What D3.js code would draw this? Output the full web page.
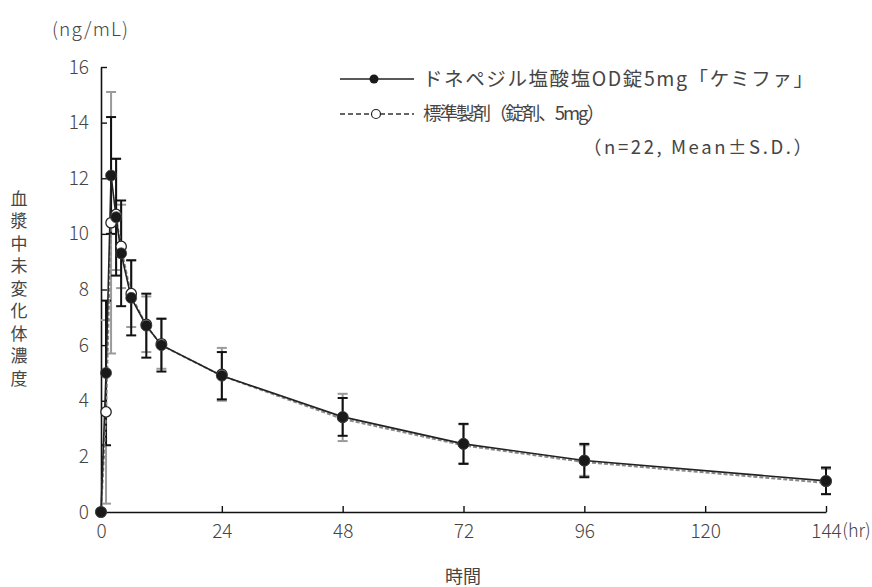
<!DOCTYPE html>
<html><head><meta charset="utf-8">
<script src="https://cdn.jsdelivr.net/npm/d3@7"></script>
<style>
body{margin:0;background:#fff;}
text{font-family:"Noto Sans CJK JP","Noto Sans",sans-serif;}
</style></head>
<body><svg id="c" width="872" height="587"></svg>
<script>
const times = [0, 1, 2, 3, 4, 6, 9, 12, 24, 48, 72, 96, 144];
const testMean = [0, 5.0, 12.1, 10.6, 9.3, 7.7, 6.7, 6.0, 4.9, 3.42, 2.45, 1.85, 1.12];
const testSD   = [0, 2.6, 2.1, 2.1, 1.9, 1.35, 1.15, 0.95, 0.85, 0.68, 0.72, 0.6, 0.48];
const refMean  = [0, 3.6, 10.4, 10.7, 9.55, 7.85, 6.75, 6.05, 4.95, 3.4, 2.45, 1.85, 1.1];
const refSD    = [0, 3.3, 4.7, 2.0, 1.5, 1.2, 1.0, 0.9, 0.95, 0.85, 0.7, 0.55, 0.45];
const xTicks = [0, 24, 48, 72, 96, 120, 144];
const yTicks = [0, 2, 4, 6, 8, 10, 12, 14, 16];
const yTitle = "血漿中未変化体濃度";
const legendLabels = ["ドネペジル塩酸塩OD錠5mg「ケミファ」", "標準製剤（錠剤、5mg）", "（n=22, Mean±S.D.）"];

const svg = d3.select("#c");
const x = d3.scaleLinear().domain([0, 144]).range([101, 826]);
const y = d3.scaleLinear().domain([0, 16]).range([512, 67]);
const txt = "#454545";
const latin = '"Open Sans","Noto Sans",sans-serif';

const test = times.map((t, i) => ({t, m: testMean[i], s: testSD[i]}));
const ref = times.map((t, i) => ({t, m: refMean[i], s: refSD[i]}));

// axes
const xAxis = d3.axisBottom(x).tickValues(xTicks).tickSizeInner(-6).tickSizeOuter(0).tickPadding(12);
const gx = svg.append("g").attr("transform", `translate(0,${y(0)})`).call(xAxis);
const yAxis = d3.axisLeft(y).tickValues(yTicks).tickSizeInner(-6).tickSizeOuter(0).tickPadding(12);
const gy = svg.append("g").attr("transform", `translate(${x(0)},0)`).call(yAxis);
[gx, gy].forEach(g => {
  g.select(".domain").attr("stroke", "#111").attr("stroke-width", 1.6);
  g.selectAll(".tick line").attr("stroke", "#111").attr("stroke-width", 1.4);
  g.selectAll(".tick text").attr("fill", txt).attr("font-size", 19)
    .attr("font-family", latin).attr("font-weight", 300);
});
gx.selectAll(".tick text").attr("dy", "0.72em");
gx.select(".tick:first-of-type line").remove();
gy.select(".tick:first-of-type line").remove();

// "(hr)" placed right after the last x tick label
const lastLabel = gx.selectAll(".tick text").nodes().pop();
const lw = lastLabel.getComputedTextLength();
svg.append("text").attr("x", x(144) + lw / 2 + 1).attr("y", 537).attr("font-size", 18).attr("fill", txt)
  .attr("font-family", latin).attr("font-weight", 300).text("(hr)");
svg.append("text").attr("x", 52).attr("y", 36).attr("font-size", 19).attr("fill", txt)
  .attr("font-family", latin).attr("font-weight", 300)
  .attr("textLength", 76).attr("lengthAdjust", "spacing").text("(ng/mL)");
svg.append("text").attr("x", 463).attr("y", 583).attr("text-anchor", "middle").attr("font-size", 18).attr("fill", txt).text("時間");
svg.append("text").attr("x", 19).attr("y", 190)
  .attr("writing-mode", "vertical-rl").style("text-orientation", "upright")
  .attr("font-size", 17).attr("letter-spacing", 5.5).attr("fill", txt).text(yTitle);

// error bars
function bars(data, color) {
  const g = svg.append("g");
  const d2 = data.filter(d => d.s > 0);
  g.selectAll("line.v").data(d2).join("line").attr("class", "v")
    .attr("x1", d => x(d.t)).attr("x2", d => x(d.t))
    .attr("y1", d => y(d.m + d.s)).attr("y2", d => y(Math.max(0, d.m - d.s)))
    .attr("stroke", color).attr("stroke-width", 2);
  ["up", "dn"].forEach(k => {
    g.selectAll("line." + k).data(d2).join("line").attr("class", k)
      .attr("x1", d => x(d.t) - 5).attr("x2", d => x(d.t) + 5)
      .attr("y1", d => y(k === "up" ? d.m + d.s : d.m - d.s))
      .attr("y2", d => y(k === "up" ? d.m + d.s : d.m - d.s))
      .attr("stroke", color).attr("stroke-width", 2);
  });
}
bars(ref, "#9a9a9a");
bars(test, "#111");

const line = d3.line().x(d => x(d.t)).y(d => y(d.m));
svg.append("path").datum(ref).attr("d", line).attr("fill", "none").attr("stroke", "#888")
  .attr("stroke-width", 2).attr("stroke-dasharray", "4,2").attr("transform", "translate(0,1.5)");
svg.append("path").datum(test).attr("d", line).attr("fill", "none").attr("stroke", "#222").attr("stroke-width", 1.6);

svg.append("g").selectAll("circle").data(ref).join("circle")
  .attr("cx", d => x(d.t)).attr("cy", d => y(d.m)).attr("r", 5.2)
  .attr("fill", "#fff").attr("stroke", "#222").attr("stroke-width", 1.3);
svg.append("g").selectAll("circle").data(test).join("circle")
  .attr("cx", d => x(d.t)).attr("cy", d => y(d.m)).attr("r", 5.5)
  .attr("fill", "#1a1a1a").attr("stroke", "#444").attr("stroke-width", 0.8);

// legend
const lg = svg.append("g");
lg.append("line").attr("x1", 340).attr("x2", 414).attr("y1", 79).attr("y2", 79).attr("stroke", "#222").attr("stroke-width", 1.6);
lg.append("circle").attr("cx", 374).attr("cy", 79).attr("r", 4.5).attr("fill", "#1a1a1a");
lg.append("line").attr("x1", 340).attr("x2", 414).attr("y1", 114).attr("y2", 114).attr("stroke", "#333").attr("stroke-width", 1.4).attr("stroke-dasharray", "5,3");
lg.append("circle").attr("cx", 376).attr("cy", 114).attr("r", 4.5).attr("fill", "#fff").attr("stroke", "#222").attr("stroke-width", 1.2);
const legLen = [390, 182, 229];
lg.selectAll("text").data(legendLabels).join("text")
  .attr("x", (d, i) => i === 2 ? 583 : 423)
  .attr("y", (d, i) => 86 + i * 34)
  .attr("font-size", (d, i) => i === 0 ? 19.5 : 18.5).attr("fill", txt)
  .attr("textLength", (d, i) => legLen[i]).attr("lengthAdjust", "spacing")
  .text(d => d);
</script></body></html>
